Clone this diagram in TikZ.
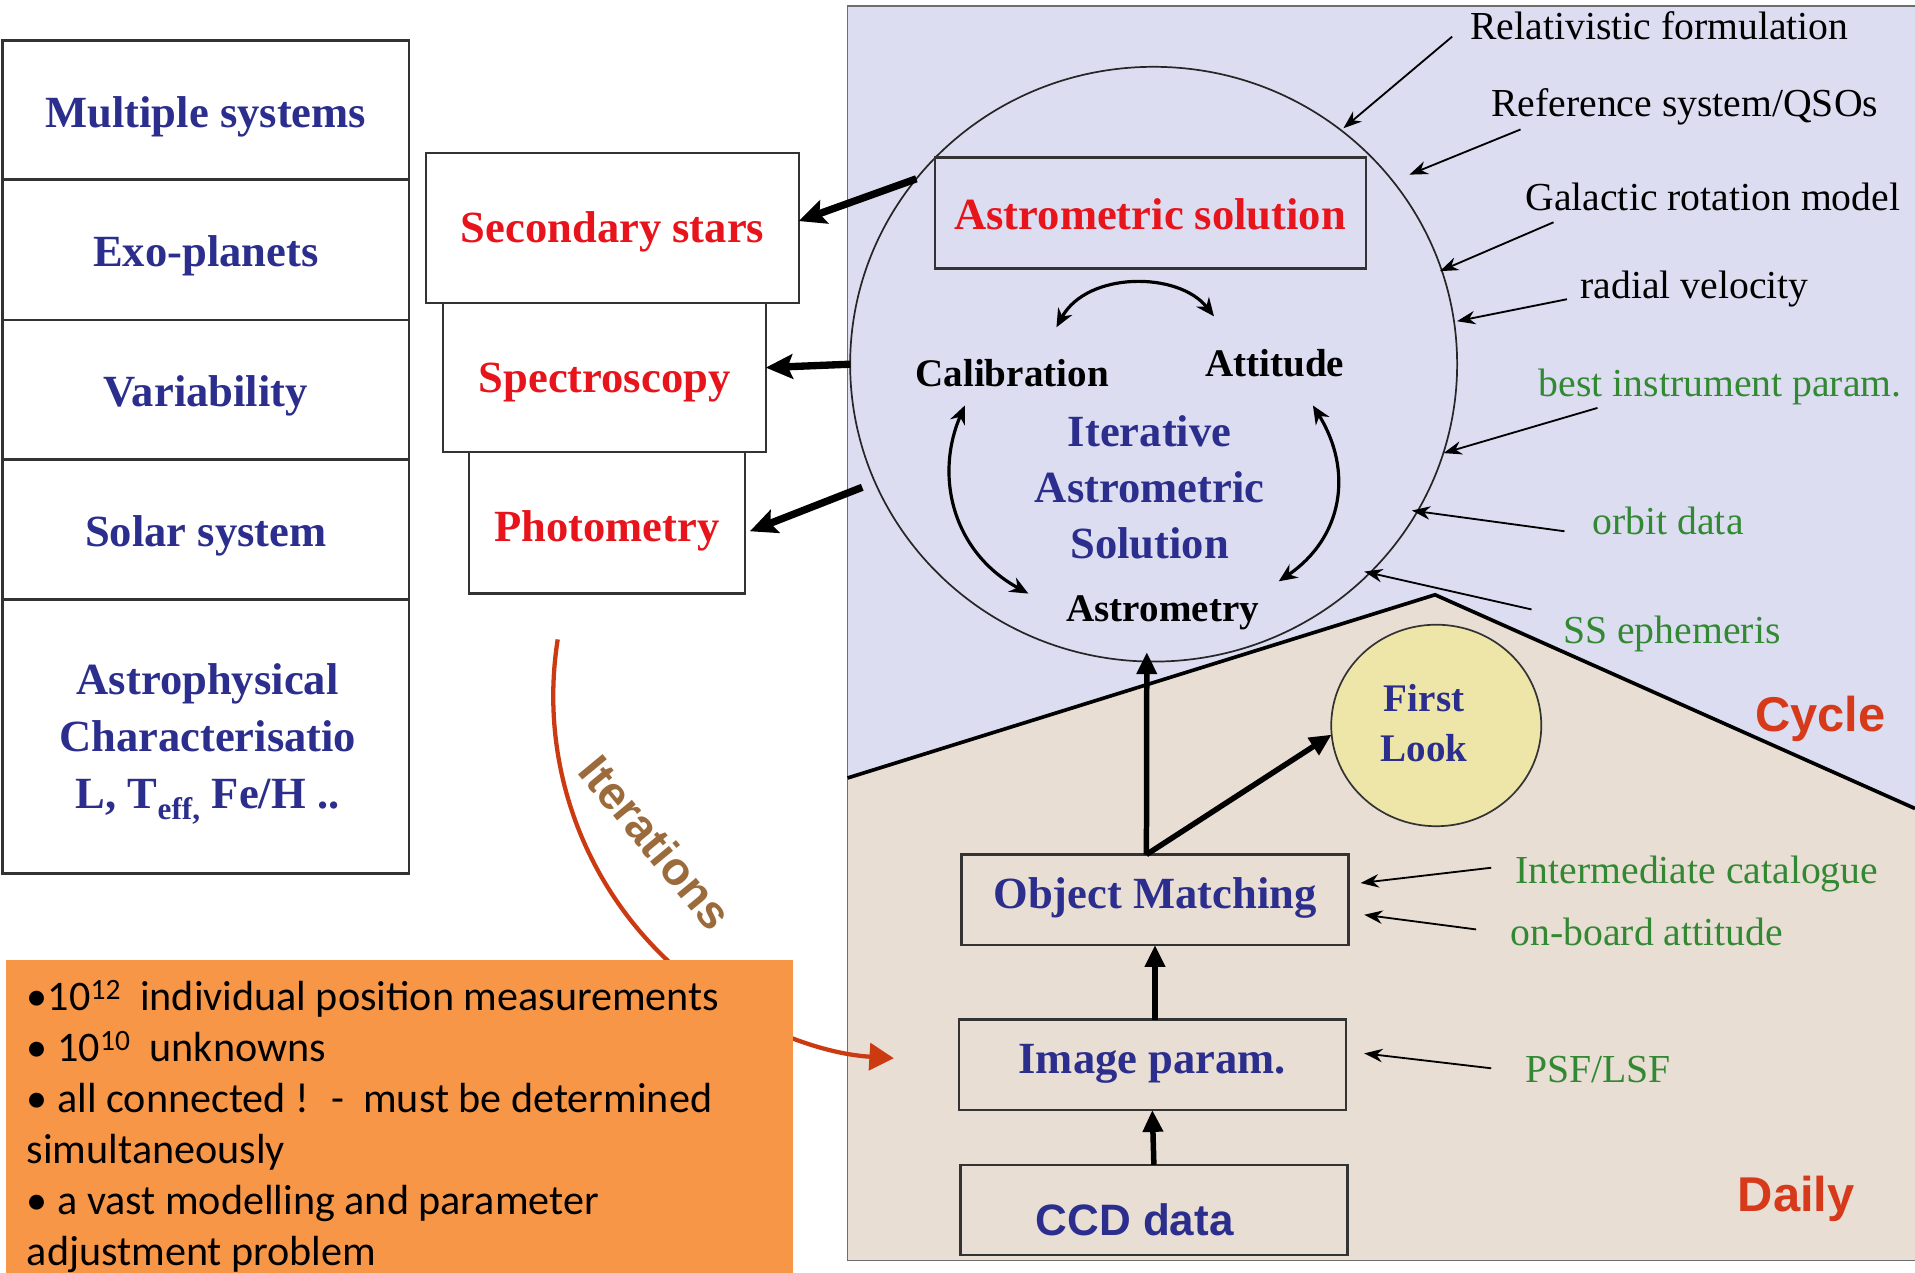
\documentclass[tikz,border=0pt]{standalone}
\usepackage{fontspec}
\setmainfont{Liberation Serif}
\newfontfamily\arialfont{Liberation Sans}
\newfontfamily\calibrifont{Carlito}
\usetikzlibrary{arrows.meta,shapes.geometric}

\definecolor{navy}{HTML}{2B2E8C}
\definecolor{redtxt}{HTML}{E8141C}
\definecolor{greentxt}{HTML}{338833}
\definecolor{cyclered}{HTML}{D63A1A}
\definecolor{lavender}{HTML}{DCDDF0}
\definecolor{beige}{HTML}{E9DED4}
\definecolor{flfill}{HTML}{EEE6A8}
\definecolor{orangebox}{HTML}{F79646}
\definecolor{iterred}{HTML}{CC3A12}
\definecolor{iterbrown}{HTML}{9B6B3B}
\definecolor{boxline}{HTML}{333333}
\definecolor{panelline}{HTML}{6E6E6E}

\newcommand{\fsz}[2]{\fontsize{#1}{#2}\selectfont}

\tikzset{
  every node/.style={inner sep=0pt, outer sep=0pt},
  leftbox/.style={draw=boxline, line width=2.2pt, fill=white, minimum width=333pt,
    text=navy, font=\fsz{36.5}{46}\bfseries, align=center},
  leftone/.style={leftbox, text height=28pt, text depth=0pt},
  midbox/.style={draw=boxline, line width=1.8pt, fill=white, text=redtxt,
    font=\fsz{36.5}{44}\bfseries, text height=24pt, text depth=0pt},
  flowbox/.style={draw=boxline, line width=2pt, minimum width=317pt, minimum height=74pt,
    text=navy, font=\fsz{36.5}{44}\bfseries, text height=24pt, text depth=10pt},
  blacklab/.style={font=\fsz{32}{38}\bfseries, anchor=base},
  inlabel/.style={font=\fsz{32.5}{38}, anchor=base west},
  greenlab/.style={inlabel, text=greentxt},
  thinarrow/.style={line width=1.5pt, -{Stealth[length=15pt,width=11pt]}},
  redarrow/.style={line width=6pt, -{Stealth[length=22pt,width=20pt,inset=4pt]}},
  flowarrow/.style={line width=4.5pt, -{Triangle[length=18pt,width=16pt]}},
  looparrow/.style={line width=2.6pt, {Stealth[length=15pt,width=13pt]}-{Stealth[length=15pt,width=13pt]}},
  sansbig/.style={font=\arialfont\fsz{40}{48}\bfseries, text=cyclered, anchor=base west},
}

\begin{document}
\begin{tikzpicture}[x=1pt,y=-1pt]
\useasboundingbox (0,0) rectangle (1568,1042);

% ---------- science topics (left column) ----------
\node[leftone, minimum height=114pt] (ms) at (168.5,90) {Multiple systems};
\node[leftone, minimum height=115pt] (ep) at (168.5,204.5) {Exo-planets};
\node[leftone, minimum height=114pt] (vb) at (168.5,319) {Variability};
\node[leftone, minimum height=115pt] (so) at (168.5,433.5) {Solar system};
\node[leftbox, minimum height=224pt] (ac) at (168.5,603) {};
\node[text=navy, font=\fsz{36.5}{46.5}\bfseries, align=center] (act) at (170,609.5)
  {Astrophysical\\Characterisatio\\L, T\textsubscript{eff,} Fe/H ..};

% ---------- by-products (middle column) ----------
\node[midbox, minimum width=305pt, minimum height=123pt] (sec) at (501.5,186.5) {Secondary stars};
\node[midbox, minimum width=264pt, minimum height=122pt] (spe) at (495,309) {Spectroscopy};
\node[midbox, minimum width=226pt, minimum height=116pt, text height=30pt] (pho) at (497,428) {Photometry};

% ---------- processing panel ----------
\fill[lavender] (694,5) rectangle (1568,1032);
\fill[beige] (694,637) -- (1175,487) -- (1568,662) -- (1568,1032) -- (694,1032) -- cycle;
\draw[line width=1.2pt, panelline] (1568,5) -- (694,5) -- (694,1032) -- (1568,1032);
\draw[line width=3pt, line join=miter] (694,637) -- (1175,487) -- (1568,662);

% cycle: iterative astrometric solution
\node[ellipse, draw=black!85, line width=1.4pt, minimum width=497pt, minimum height=487pt]
  (circ) at (944.6,298.2) {};
\node[draw=boxline, line width=1.8pt, minimum width=353pt, minimum height=91pt, text=redtxt,
  font=\fsz{36.5}{44}\bfseries, text height=27pt, text depth=0pt] (asol) at (941.8,174.4)
  {Astrometric solution};

\node[blacklab] (cal) at (828.7,316.6) {Calibration};
\node[blacklab] (att) at (1043.8,308.4) {Attitude};
\node[blacklab] (asm) at (952,509) {Astrometry};
\node[text=navy, font=\fsz{36.5}{45.7}\bfseries, align=center] (ias) at (941.3,399.2)
  {Iterative\\Astrometric\\Solution};

\coordinate (ca1) at (865,268);  \coordinate (ca2) at (994,259);
\coordinate (cb1) at (790,332);  \coordinate (cb2) at (842,486);
\coordinate (cc1) at (1075,332); \coordinate (cc2) at (1047,476);
\draw[looparrow] (ca1) .. controls (890,222) and (965,222) .. (ca2);
\draw[looparrow] (cb1) .. controls (765,390) and (780,452) .. (cb2);
\draw[looparrow] (cc1) .. controls (1108,385) and (1100,440) .. (cc2);

% outputs to the by-products
\coordinate (po) at (706,399);
\draw[redarrow] (circ.142) -- ([yshift=5.5pt]sec.east);
\draw[redarrow] (circ.180) -- ([yshift=8pt]spe.east);
\draw[redarrow] (po) -- ([xshift=4pt,yshift=-7pt]pho.east);

% external inputs to the cycle
\node[inlabel] (rel) at (1204,32) {Relativistic formulation};
\node[inlabel] (ref) at (1221,95.5) {Reference system/QSOs};
\node[inlabel] (gal) at (1249,172) {Galactic rotation model};
\node[inlabel] (rad) at (1294,244) {radial velocity};
\node[greenlab] (bip) at (1260,325) {best instrument param.};
\node[greenlab] (orb) at (1304,438) {orbit data};
\node[greenlab] (sse) at (1280,527) {SS ephemeris};

\coordinate (s1) at (1189,30);   \coordinate (t1) at (1100,105);
\coordinate (s2) at (1245,106);  \coordinate (t2) at (1154,143);
\coordinate (s3) at (1272,182);  \coordinate (t3) at (1179,222);
\coordinate (s4) at (1283,245);  \coordinate (t4) at (1193,263);
\coordinate (s5) at (1308,334);  \coordinate (t5) at (1182,371);
\coordinate (s6) at (1281,435);  \coordinate (t6) at (1156,418);
\coordinate (s7) at (1254,499);  \coordinate (t7) at (1117,468);
\foreach \i in {1,...,7} { \draw[thinarrow] (s\i) -- (t\i); }

% daily processing
\node[ellipse, draw=black!80, line width=1.4pt, fill=flfill, minimum width=172pt,
  minimum height=165pt] (fl) at (1176,594) {};
\node[text=navy, font=\fsz{32}{41}\bfseries, align=center] (flt) at (1166,592.3) {First\\Look};

\node[flowbox] (om) at (945.7,736.7) {Object Matching};
\node[flowbox] (ip) at (943.5,871.8) {Image param.};
\node[flowbox] (ccd) at (944.8,990.7) {};
\node[font=\arialfont\fsz{36}{44}\bfseries, text=navy, anchor=base west] (ccdt) at (848,1012) {CCD data};

\coordinate (ctip) at (939,534);
\draw[flowarrow] ([xshift=-7pt]om.north) -- (ctip);
\draw[flowarrow] ([xshift=-7pt]om.north) -- (fl.185);
\draw[flowarrow] (om.south |- ip.north) -- (om.south);
\draw[flowarrow] (ccd.north) -- (ip.south);

\node[greenlab] (icat) at (1241,723) {Intermediate catalogue};
\node[greenlab] (oba) at (1237,774) {on-board attitude};
\node[greenlab] (psf) at (1249,886) {PSF/LSF};
\coordinate (s8) at (1221,710.5);  \coordinate (t8) at (1114,723);
\coordinate (s9) at (1208.6,761);  \coordinate (t9) at (1117,749);
\coordinate (s10) at (1221,874.7); \coordinate (t10) at (1117,862.5);
\foreach \i in {8,9,10} { \draw[thinarrow] (s\i) -- (t\i); }

\node[sansbig] (cyc) at (1437,599) {Cycle};
\node[sansbig] (dly) at (1423,992) {Daily};

% ---------- iterations loop and problem size ----------
\coordinate (itc) at (750,570);
\draw[line width=3.5pt, draw=iterred, -{Triangle[length=20pt,width=22pt]}]
  (itc) ++(189:297) arc[start angle=189, end angle=93.5, radius=297];

\node[fill=orangebox, minimum width=644pt, minimum height=256pt, anchor=north west] (ob) at (5,786) {};
\node[anchor=north west, font=\calibrifont\fsz{34.5}{41.7}, align=left] (obt) at (22,803) {%
•10\textsuperscript{12}~ individual position measurements\\
• 10\textsuperscript{10}~ unknowns\\
• all connected !~ -~ must be determined\\
simultaneously\\
• a vast modelling and parameter\\
adjustment problem};

\node[rotate=-50.4, text=iterbrown, font=\arialfont\fsz{38}{44}\bfseries] (itx) at (537,689.5) {Iterations};

\end{tikzpicture}
\end{document}
